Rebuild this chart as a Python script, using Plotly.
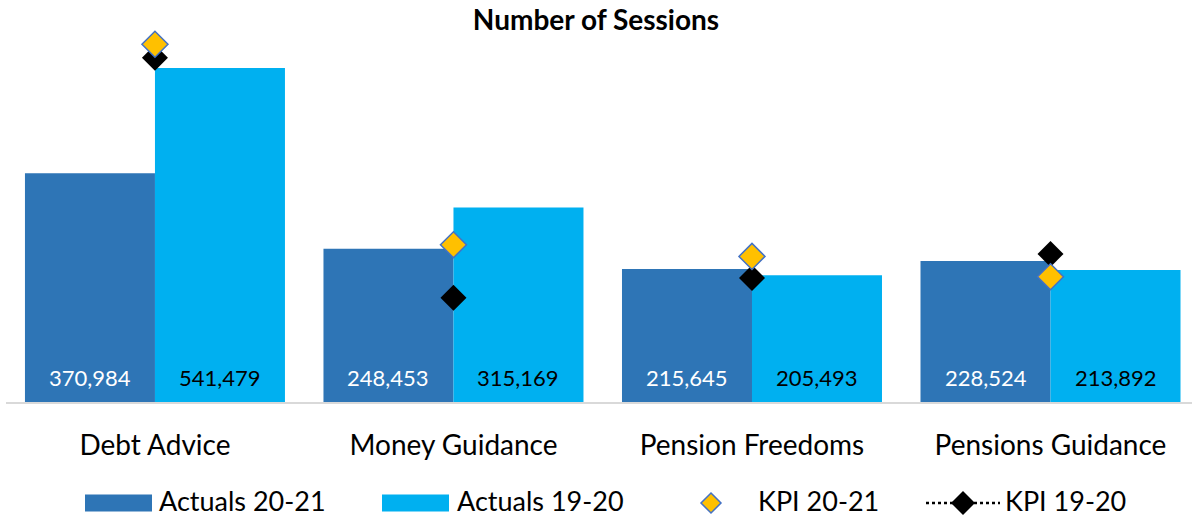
import plotly.graph_objects as go

categories = ["Debt Advice", "Money Guidance", "Pension Freedoms", "Pensions Guidance"]
actuals_20_21 = [370984, 248453, 215645, 228524]
actuals_19_20 = [541479, 315169, 205493, 213892]
kpi_20_21 = [580000, 255000, 236000, 203000]
kpi_19_20 = [558000, 169000, 201000, 240000]

FONT = "Lato"
DARK = "#2E75B6"
LIGHT = "#00B0F0"
GOLD = "#FFC000"

fig = go.Figure()
fig.add_trace(go.Bar(
    x=categories, y=actuals_20_21, name="Actuals 20-21",
    marker=dict(color=DARK, line=dict(width=0)),
))
fig.add_trace(go.Bar(
    x=categories, y=actuals_19_20, name="Actuals 19-20",
    marker=dict(color=LIGHT, line=dict(width=0)),
))
fig.add_trace(go.Scatter(
    x=categories, y=kpi_19_20, name="KPI 19-20", mode="markers",
    marker=dict(symbol="diamond", size=20, color="black", line=dict(width=0)),
))
fig.add_trace(go.Scatter(
    x=categories, y=kpi_20_21, name="KPI 20-21", mode="markers",
    marker=dict(symbol="diamond", size=20, color=GOLD, line=dict(width=1.5, color="#4472C4")),
))

W, H = 1192, 518
L, R, T, B = 6, 0, 30, 116
pw, ph = W - L - R, H - T - B

annotations = []
# value labels near the bottom of each bar
for cat, v in zip(categories, actuals_20_21):
    annotations.append(dict(x=cat, y=0, xref="x", yref="y", text=f"{v:,}", showarrow=False,
                            xshift=-65, yshift=25, yanchor="middle",
                            font=dict(size=22, color="white", family=FONT)))
for cat, v in zip(categories, actuals_19_20):
    annotations.append(dict(x=cat, y=0, xref="x", yref="y", text=f"{v:,}", showarrow=False,
                            xshift=65, yshift=25, yanchor="middle",
                            font=dict(size=22, color="black", family=FONT)))

# legend built in paper coordinates (pixel -> paper)
def fx(px):
    return (px - L) / pw
def fy(py):
    return (H - B - py) / ph

ly = 503      # symbol centre row
ty = 500      # text centre row
LFS = 27
shapes = []
items = [
    (DARK, 85, 152, "Actuals 20-21", 157),
    (LIGHT, 382, 449, "Actuals 19-20", 455),
]
for col, x0, x1, label, tx in items:
    shapes.append(dict(type="rect", xref="paper", yref="paper",
                       x0=fx(x0), x1=fx(x1), y0=fy(ly + 8.5), y1=fy(ly - 8.5),
                       fillcolor=col, line=dict(width=0)))
    annotations.append(dict(text=label, xref="paper", yref="paper", x=fx(tx), y=fy(ty),
                            xanchor="left", yanchor="middle", showarrow=False,
                            font=dict(size=LFS, family=FONT)))

def diamond(cx, cy, r, fill, lc, lw):
    path = (f"M {fx(cx)} {fy(cy - r)} L {fx(cx + r)} {fy(cy)} "
            f"L {fx(cx)} {fy(cy + r)} L {fx(cx - r)} {fy(cy)} Z")
    return dict(type="path", xref="paper", yref="paper", path=path,
                fillcolor=fill, line=dict(width=lw, color=lc))

shapes.append(diamond(711, ly, 10, GOLD, "#4472C4", 1.5))
annotations.append(dict(text="KPI 20-21", xref="paper", yref="paper", x=fx(756), y=fy(ty),
                        xanchor="left", yanchor="middle", showarrow=False,
                        font=dict(size=LFS, family=FONT)))
shapes.append(dict(type="line", xref="paper", yref="paper", x0=fx(926), x1=fx(1000),
                   y0=fy(ly), y1=fy(ly), line=dict(color="black", width=2.5, dash="dot")))
shapes.append(diamond(963, ly, 12, "black", "black", 0))
annotations.append(dict(text="KPI 19-20", xref="paper", yref="paper", x=fx(1003), y=fy(ty),
                        xanchor="left", yanchor="middle", showarrow=False,
                        font=dict(size=LFS, family=FONT)))

fig.update_layout(
    width=W, height=H,
    margin=dict(l=L, r=R, t=T, b=B),
    paper_bgcolor="white", plot_bgcolor="white",
    barmode="group", bargap=0.129, bargroupgap=0,
    showlegend=False,
    font=dict(family=FONT, color="black"),
    title=dict(text="<b>Number of Sessions</b>", x=0.5, xanchor="center",
               y=1 - 20 / H, yanchor="middle", font=dict(size=28, family=FONT)),
    xaxis=dict(range=[-0.499, 3.474], showline=True, linecolor="#D9D9D9", linewidth=2,
               ticks="", tickfont=dict(size=28, family=FONT), ticklabelstandoff=17,
               showgrid=False, zeroline=False, fixedrange=True),
    yaxis=dict(range=[0, 603000], visible=False, showgrid=False, zeroline=False,
               fixedrange=True),
    shapes=shapes, annotations=annotations,
)

fig.write_html("out.html", config={"displayModeBar": False},
               post_script="document.body.style.margin='0';document.body.style.padding='0';")
